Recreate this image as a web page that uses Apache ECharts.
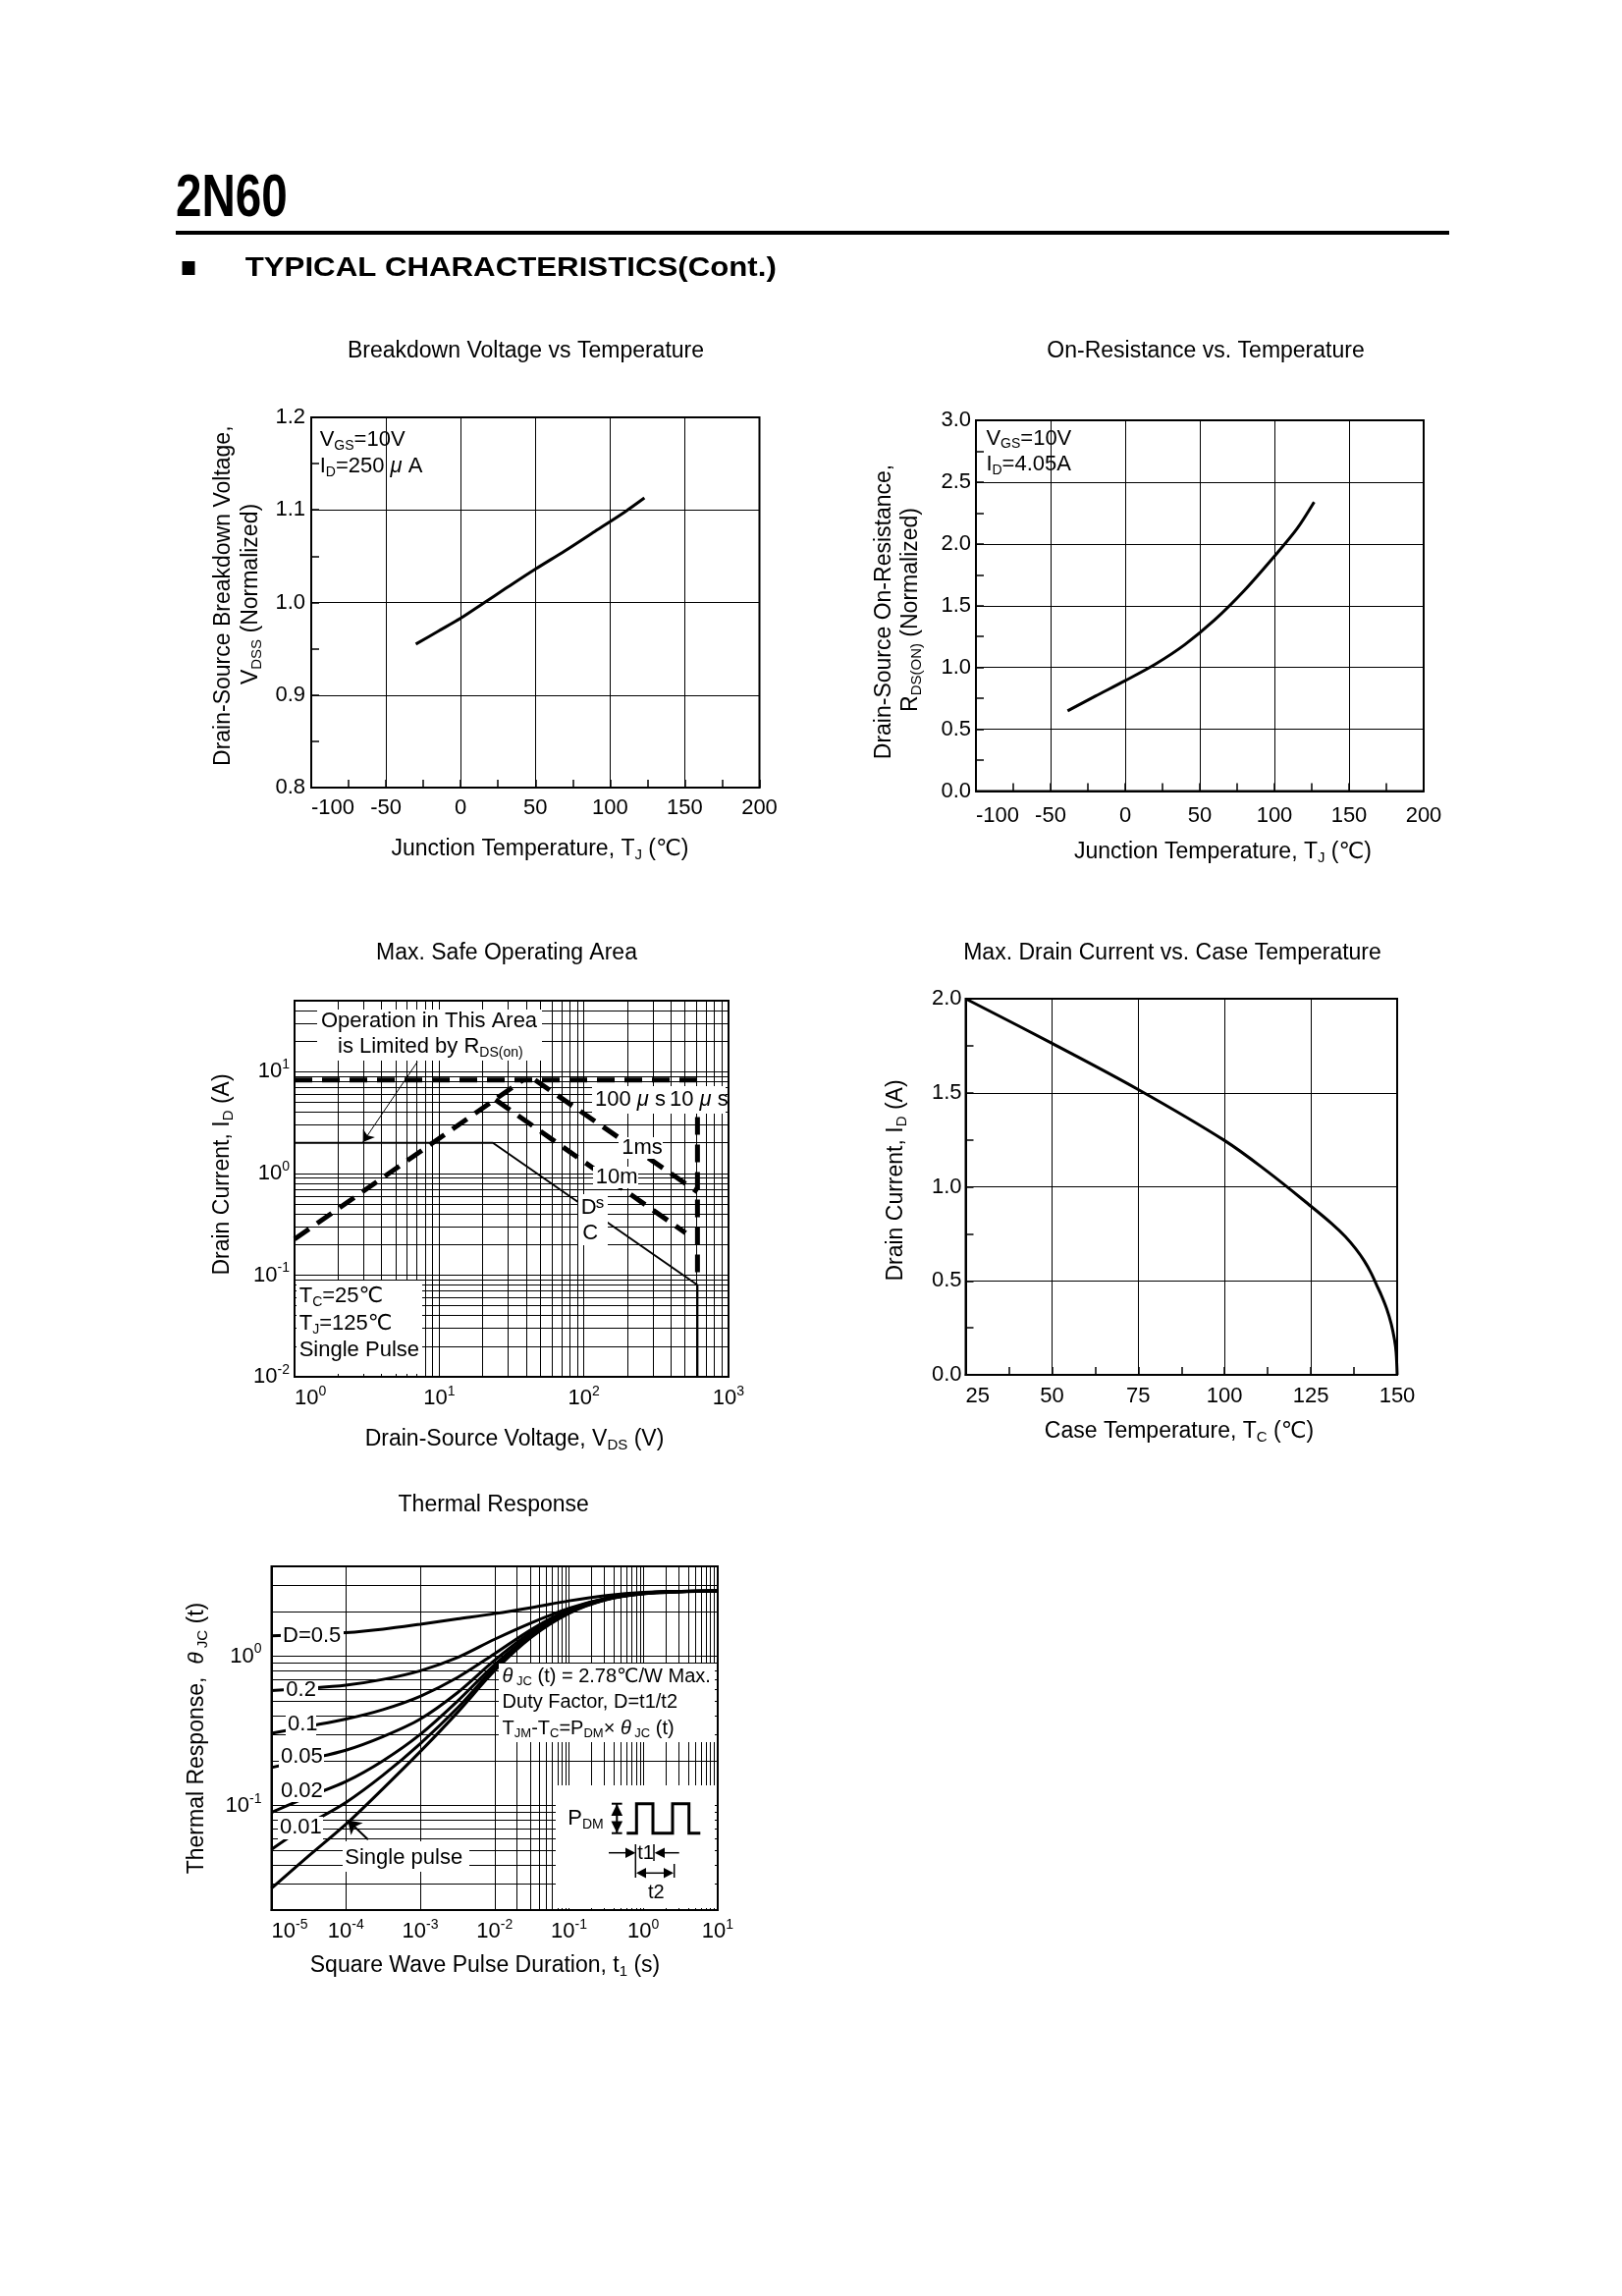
<!DOCTYPE html>
<html><head><meta charset="utf-8">
<script src="https://cdn.jsdelivr.net/npm/echarts@6/dist/echarts.min.js"></script>
<style>html,body{margin:0;padding:0;background:#fff}#c{width:1652px;height:2338px}</style>
</head><body><div id="c"></div>
<script>
// ---------------- DATA ----------------
// Breakdown voltage vs temperature
const bvTemp = [-30, -15, 0, 15, 30, 50, 70, 90, 110, 123];
const bvNorm = [0.955, 0.969, 0.983, 0.999, 1.015, 1.036, 1.056, 1.077, 1.098, 1.113];
// On-resistance vs temperature
const ronTemp = [-38.6, -20, 0, 20, 40, 60, 80, 100, 115, 126.6];
const ronNorm = [0.649, 0.768, 0.893, 1.025, 1.185, 1.385, 1.625, 1.900, 2.120, 2.338];
// Max drain current vs case temperature
const caseTemp = [25, 50, 75, 100, 112.5, 125, 131, 135, 138, 140.5, 142.5, 144, 145.5, 147, 148.3, 149.2, 149.7, 150];
const drainCur = [2.0, 1.763, 1.517, 1.246, 1.08, 0.897, 0.805, 0.735, 0.67, 0.605, 0.54, 0.48, 0.42, 0.35, 0.27, 0.19, 0.12, 0.0];
// Safe operating area (V, A)
const soaLimitV = [1, 38];        const soaLimitI = [0.226, 8.3];
const soaPulseV = [1, 610, 610];  const soaPulseI = [8.3, 8.3, 0.096];
const soa100usV = [46, 610];      const soa100usI = [8.3, 0.66];
const soa1msV = [24.5, 505];      const soa1msI = [5.3, 0.26];
const soaDcV = [1, 23.5, 610, 610]; const soaDcI = [2.0, 2.0, 0.08, 0.01];
const soaArrowV = [7.06, 2.97];   const soaArrowI = [12.5, 2.03];
// Thermal response
const thermT = [1e-5, 3.16e-5, 1e-4, 3.16e-4, 1e-3, 3.16e-3, 1e-2, 3.16e-2, 1e-1, 3.16e-1, 1, 3.16, 10];
const zD05 = [1.37, 1.40, 1.44, 1.52, 1.64, 1.78, 1.93, 2.12, 2.35, 2.55, 2.68, 2.72, 2.74];
const zD02 = [0.59, 0.61, 0.64, 0.70, 0.80, 0.98, 1.30, 1.68, 2.10, 2.45, 2.66, 2.72, 2.74];
const zD01 = [0.305, 0.34, 0.38, 0.44, 0.54, 0.72, 1.04, 1.52, 2.05, 2.44, 2.65, 2.72, 2.74];
const zD005 = [0.18, 0.205, 0.235, 0.29, 0.38, 0.57, 0.94, 1.46, 2.01, 2.42, 2.64, 2.71, 2.74];
const zD002 = [0.09, 0.115, 0.145, 0.20, 0.30, 0.50, 0.88, 1.41, 1.98, 2.41, 2.63, 2.71, 2.74];
const zD001 = [0.051, 0.075, 0.105, 0.16, 0.26, 0.45, 0.84, 1.38, 1.96, 2.40, 2.63, 2.71, 2.74];
const zSingle = [0.028, 0.046, 0.075, 0.13, 0.23, 0.42, 0.80, 1.35, 1.94, 2.39, 2.62, 2.70, 2.74];
const spArrowT = [1.99e-4, 1.06e-4]; const spArrowZ = [0.0592, 0.080];
// log grid helpers
const minorMult = [2, 3, 4, 5, 6, 7, 8, 9];
const soaXDec = [1, 10, 100];
const soaYDec = [0.01, 0.1, 1, 10];
const thXDec = [1e-5, 1e-4, 1e-3, 1e-2, 1e-1, 1];
const thYDec = [0.01, 0.1, 1];

// ---------------- HELPERS ----------------
const FONT = '"Liberation Sans", Arial, Helvetica, "DejaVu Sans", "Noto Sans CJK SC", sans-serif';
const pairs = (a, b) => a.map((v, i) => [v, b[i]]);
function minorVals(decs, lo, hi) {
  const out = [];
  decs.forEach(d => minorMult.forEach(m => { const v = +(d * m).toPrecision(6); if (v > lo && v < hi) out.push(v); }));
  return out;
}
function decLabel(v) {
  const e = Math.log10(v), r = Math.round(e);
  if (Math.abs(e - r) > 1e-4) return '';
  return '{b|10}{s|' + r + '}';
}
const LOGRICH = {
  b: {fontSize: 22, color: '#000', lineHeight: 28, fontFamily: FONT},
  s: {fontSize: 14, color: '#000', lineHeight: 14, verticalAlign: 'top', fontFamily: FONT}
};
function linAxis(gi, min, max, interval, margin, fmt, alignMin) {
  return {gridIndex: gi, type: 'value', min, max, interval,
    axisLine: {show: true, onZero: false, lineStyle: {color: '#000', width: 2}},
    axisTick: {show: true, inside: true, length: 8, lineStyle: {color: '#000', width: 1.5}},
    minorTick: {show: true, splitNumber: 2, length: 8, lineStyle: {color: '#000', width: 1.5}},
    splitLine: {show: true, lineStyle: {color: '#000', width: 1}},
    axisLabel: {show: true, color: '#000', fontSize: 22, fontFamily: FONT, margin, lineHeight: 24, formatter: fmt,
      alignMinLabel: alignMin || null}};
}
function logAxis(gi, min, max, margin, alignMin) {
  return {gridIndex: gi, type: 'log', logBase: 10, min, max,
    axisLine: {show: true, onZero: false, lineStyle: {color: '#000', width: 2}},
    axisTick: {show: false}, minorTick: {show: false},
    splitLine: {show: true, lineStyle: {color: '#000', width: 1}},
    axisLabel: {show: true, interval: 0, margin, formatter: decLabel, rich: LOGRICH, alignMinLabel: alignMin || null}};
}
function curve(xi, data, w, extra) {
  return Object.assign({type: 'line', xAxisIndex: xi, yAxisIndex: xi, data, showSymbol: false, symbol: 'none',
    smooth: 0.3, z: 5, silent: true, lineStyle: {color: '#000', width: w || 3}}, extra || {});
}
function dashed(xi, data) {
  return curve(xi, data, 5, {smooth: false, lineStyle: {color: '#000', width: 5, type: [18, 10]}});
}
function gridMarks(xi, xs, ys) {
  return {type: 'line', xAxisIndex: xi, yAxisIndex: xi, data: [], z: 1, silent: true,
    markLine: {silent: true, symbol: ['none', 'none'], label: {show: false}, animation: false,
      lineStyle: {color: '#000', width: 1, type: 'solid'}, emphasis: {disabled: true},
      data: xs.map(v => ({xAxis: v})).concat(ys.map(v => ({yAxis: v})))}};
}
function arrowSeries(xi, xs, ys, w, size) {
  return {type: 'line', xAxisIndex: xi, yAxisIndex: xi, data: [], z: 130, silent: true,
    markLine: {silent: true, symbol: ['none', 'arrow'], symbolSize: size, label: {show: false}, animation: false,
      lineStyle: {color: '#000', width: w, type: 'solid'}, emphasis: {disabled: true},
      data: [[{coord: [xs[0], ys[0]]}, {coord: [xs[1], ys[1]]}]]}};
}
function mkRich(S) {
  const sb = Math.round(S * 0.64);
  return {
    n: {fontSize: S, fontFamily: FONT, fill: '#000', lineHeight: S + 4},
    it: {fontSize: S, fontFamily: FONT, fill: '#000', lineHeight: S + 4, fontStyle: 'italic'},
    sub: {fontSize: sb, fontFamily: FONT, fill: '#000', lineHeight: sb, verticalAlign: 'bottom'},
    sup: {fontSize: sb, fontFamily: FONT, fill: '#000', lineHeight: sb, verticalAlign: 'top'}
  };
}
function txt(x, y, text, S, opt) {
  opt = opt || {};
  return {type: 'text', x, y, z: 120, rotation: opt.rot || 0, silent: true,
    scaleX: opt.sx || 1,
    style: {text, rich: mkRich(S), fontSize: S, fontFamily: FONT, fontWeight: opt.bold ? 'bold' : 'normal', fill: '#000',
      align: opt.align || 'left', verticalAlign: 'middle'}};
}
function box(x, y, w, h) { return {type: 'rect', z: 100, silent: true, shape: {x, y, width: w, height: h}, style: {fill: '#fff'}}; }
function seg(x1, y1, x2, y2, w) { return {type: 'line', z: 121, silent: true, shape: {x1, y1, x2, y2}, style: {stroke: '#000', lineWidth: w || 1.5}}; }
function tri(pts) { return {type: 'polygon', z: 121, silent: true, shape: {points: pts}, style: {fill: '#000'}}; }
const ROT = Math.PI / 2;

// ---------------- GRAPHICS (text/layout) ----------------
const G = [];
// header
G.push(txt(179, 203, '2N60', 61, {bold: true, sx: 0.78}));
G.push({type: 'rect', z: 100, silent: true, shape: {x: 179, y: 235, width: 1297, height: 4}, style: {fill: '#000'}});
G.push({type: 'rect', z: 100, silent: true, shape: {x: 185.5, y: 266, width: 13, height: 14}, style: {fill: '#000'}});
G.push(txt(249.7, 273.5, 'TYPICAL CHARACTERISTICS(Cont.)', 28, {bold: true, sx: 1.115}));
// titles
G.push(txt(535.5, 358, '{n|Breakdown Voltage vs Temperature}', 23, {align: 'center'}));
G.push(txt(1228, 358, '{n|On-Resistance vs. Temperature}', 23, {align: 'center'}));
G.push(txt(516, 971, '{n|Max. Safe Operating Area}', 23, {align: 'center'}));
G.push(txt(1194, 971, '{n|Max. Drain Current vs. Case Temperature}', 23, {align: 'center'}));
G.push(txt(502.7, 1533, '{n|Thermal Response}', 23, {align: 'center'}));
// axis names
G.push(txt(550, 865, '{n|Junction Temperature, T}{sub|J}{n| (℃)}', 23, {align: 'center'}));
G.push(txt(1245.5, 868, '{n|Junction Temperature, T}{sub|J}{n| (℃)}', 23, {align: 'center'}));
G.push(txt(524, 1466, '{n|Drain-Source Voltage, V}{sub|DS}{n| (V)}', 23, {align: 'center'}));
G.push(txt(1201, 1458, '{n|Case Temperature, T}{sub|C}{n| (℃)}', 23, {align: 'center'}));
G.push(txt(494, 2001.7, '{n|Square Wave Pulse Duration, t}{sub|1}{n| (s)}', 23, {align: 'center'}));
G.push(txt(227.8, 606.7, '{n|Drain-Source Breakdown Voltage,}', 23, {align: 'center', rot: ROT}));
G.push(txt(256, 605, '{n|V}{sub|DSS}{n| (Normalized)}', 23, {align: 'center', rot: ROT}));
G.push(txt(900.6, 623, '{n|Drain-Source On-Resistance,}', 23, {align: 'center', rot: ROT}));
G.push(txt(927.4, 621, '{n|R}{sub|DS(ON)}{n| (Normalized)}', 23, {align: 'center', rot: ROT}));
G.push(txt(226.9, 1196, '{n|Drain Current, I}{sub|D}{n| (A)}', 23, {align: 'center', rot: ROT}));
G.push(txt(912.5, 1202, '{n|Drain Current, I}{sub|D}{n| (A)}', 23, {align: 'center', rot: ROT}));
G.push(txt(200.8, 1770, '{n|Thermal Response,  }{it|θ}{sub| JC}{n| (t)}', 23, {align: 'center', rot: ROT}));
// chart 1 / 2 notes
G.push(txt(325.7, 448, '{n|V}{sub|GS}{n|=10V}', 22));
G.push(txt(325.7, 475, '{n|I}{sub|D}{n|=250}{it| μ }{n|A}', 22));
G.push(txt(1004.4, 446.5, '{n|V}{sub|GS}{n|=10V}', 22));
G.push(txt(1004.4, 473, '{n|I}{sub|D}{n|=4.05A}', 22));
// SOA notes
G.push(box(323, 1028, 229, 52));
G.push(txt(327, 1040, '{n|Operation in This Area}', 22));
G.push(txt(344, 1066, '{n|is Limited by R}{sub|DS(on)}', 22));
G.push(box(603, 1106, 136, 28));
G.push(txt(606, 1120, '{n|100}{it| μ }{n|s}', 22));
G.push(txt(682, 1120, '{n|10}{it| μ }{n|s}', 22));
G.push(box(630, 1158, 45, 22));
G.push(txt(633.3, 1169, '{n|1ms}', 22));
G.push(box(604, 1188, 46, 22));
G.push(txt(606.7, 1199, '{n|10m}', 22));
G.push(box(589, 1216, 30, 52));
G.push(txt(591.7, 1230, '{n|D}', 22));
G.push(txt(606.7, 1225, '{n|s}', 17));
G.push(txt(593.3, 1256, '{n|C}', 22));
G.push(box(302, 1304, 128, 95));
G.push(txt(304.7, 1320, '{n|T}{sub|C}{n|=25℃}', 22));
G.push(txt(304.7, 1348, '{n|T}{sub|J}{n|=125℃}', 22));
G.push(txt(304.7, 1375, '{n|Single Pulse}', 22));
// thermal notes
G.push(box(286, 1655, 64, 23)); G.push(txt(288, 1666, '{n|D=0.5}', 22));
G.push(box(289, 1711, 35, 21)); G.push(txt(291.3, 1721, '{n|0.2}', 22));
G.push(box(291, 1746, 31, 21)); G.push(txt(293, 1756, '{n|0.1}', 22));
G.push(box(284, 1779, 46, 21)); G.push(txt(286, 1789, '{n|0.05}', 22));
G.push(box(284, 1814, 46, 21)); G.push(txt(286, 1824, '{n|0.02}', 22));
G.push(box(283, 1850, 46, 23)); G.push(txt(285, 1861, '{n|0.01}', 22));
G.push(box(349, 1875, 129, 31)); G.push(txt(351.3, 1892, '{n|Single pulse}', 22));
G.push(box(508, 1694, 220, 80));
G.push(txt(511.6, 1707, '{it|θ}{sub| JC}{n| (t) = 2.78℃/W Max.}', 20));
G.push(txt(511.6, 1733, '{n|Duty Factor, D=t1/t2}', 20));
G.push(txt(511.6, 1760, '{n|T}{sub|JM}{n|-T}{sub|C}{n|=P}{sub|DM}{n|× }{it|θ}{sub| JC}{n| (t)}', 20));
// pulse diagram
G.push(box(566, 1818, 162, 125));
G.push(txt(578.3, 1852, '{n|P}{sub|DM}', 22));
G.push(seg(628.3, 1837, 628.3, 1866.5, 2));
G.push(seg(623, 1836.7, 633.6, 1836.7, 2));
G.push(seg(623, 1866.7, 633.6, 1866.7, 2));
G.push(tri([[628.3, 1837], [622.5, 1849], [634.1, 1849]]));
G.push(tri([[628.3, 1866.5], [622.5, 1854.5], [634.1, 1854.5]]));
G.push({type: 'polyline', z: 121, silent: true, shape: {points: [[638.3, 1866.7], [648.3, 1866.7], [648.3, 1836.7], [665, 1836.7], [665, 1866.7], [685, 1866.7], [685, 1836.7], [701.7, 1836.7], [701.7, 1866.7], [713.3, 1866.7]]}, style: {stroke: '#000', lineWidth: 3, fill: null}});
G.push(seg(620, 1886.7, 640, 1886.7, 1.5)); G.push(tri([[647.3, 1886.7], [637, 1881.5], [637, 1891.9]]));
G.push(seg(674, 1886.7, 691.7, 1886.7, 1.5)); G.push(tri([[666.7, 1886.7], [677, 1881.5], [677, 1891.9]]));
G.push(seg(647.3, 1878, 647.3, 1912, 1.5));
G.push(seg(666, 1878, 666, 1895, 1.5));
G.push(seg(686.7, 1898, 686.7, 1912, 1.5));
G.push(seg(655, 1907.3, 679, 1907.3, 1.5));
G.push(tri([[648, 1907.3], [658, 1902], [658, 1912.6]]));
G.push(tri([[686, 1907.3], [676, 1902], [676, 1912.6]]));
G.push(txt(657.5, 1887, '{n|t1}', 20, {align: 'center'}));
G.push(txt(668.3, 1927, '{n|t2}', 20, {align: 'center'}));

// ---------------- OPTION ----------------
const gridBase = {show: true, borderColor: '#000', borderWidth: 2, backgroundColor: 'transparent', containLabel: false, outerBoundsMode: 'none'};
const option = {
  animation: false,
  backgroundColor: '#fff',
  textStyle: {fontFamily: FONT},
  grid: [
    Object.assign({left: 317, top: 425, width: 456.5, height: 377}, gridBase),
    Object.assign({left: 994, top: 428, width: 456, height: 377.5}, gridBase),
    Object.assign({left: 300, top: 1019, width: 442, height: 383}, gridBase),
    Object.assign({left: 983.5, top: 1017, width: 439.5, height: 383}, gridBase),
    Object.assign({left: 276.5, top: 1595, width: 454.5, height: 350}, gridBase)
  ],
  xAxis: [
    linAxis(0, -100, 200, 50, 9, null, 'left'),
    linAxis(1, -100, 200, 50, 13, null, 'left'),
    logAxis(2, 1, 1000, 8, 'left'),
    linAxis(3, 25, 150, 25, 10, null, 'left'),
    logAxis(4, 1e-5, 10, 8, 'left')
  ],
  yAxis: [
    linAxis(0, 0.8, 1.2, 0.1, 6, v => v.toFixed(1)),
    linAxis(1, 0, 3, 0.5, 5, v => v.toFixed(1)),
    logAxis(2, 0.01, 50, 5),
    linAxis(3, 0, 2, 0.5, 4, v => v.toFixed(1)),
    logAxis(4, 0.02, 4, 10)
  ],
  series: [
    curve(0, pairs(bvTemp, bvNorm)),
    curve(1, pairs(ronTemp, ronNorm)),
    gridMarks(2, minorVals(soaXDec, 1, 1000), minorVals(soaYDec, 0.01, 50)),
    dashed(2, pairs(soaPulseV, soaPulseI)),
    dashed(2, pairs(soaLimitV, soaLimitI)),
    dashed(2, pairs(soa100usV, soa100usI)),
    dashed(2, pairs(soa1msV, soa1msI)),
    curve(2, pairs(soaDcV, soaDcI), 2, {smooth: false}),
    arrowSeries(2, soaArrowV, soaArrowI, 1, 11),
    curve(3, pairs(caseTemp, drainCur), 3, {smooth: 0.35}),
    gridMarks(4, minorVals(thXDec, 1e-5, 10), minorVals(thYDec, 0.02, 4)),
    curve(4, pairs(thermT, zD05)),
    curve(4, pairs(thermT, zD02)),
    curve(4, pairs(thermT, zD01)),
    curve(4, pairs(thermT, zD005)),
    curve(4, pairs(thermT, zD002)),
    curve(4, pairs(thermT, zD001)),
    curve(4, pairs(thermT, zSingle)),
    arrowSeries(4, spArrowT, spArrowZ, 2, 13)
  ],
  graphic: {elements: G}
};
const chart = echarts.init(document.getElementById('c'), null, {renderer: 'canvas', width: 1652, height: 2338});
chart.setOption(option);
</script>
</body></html>
